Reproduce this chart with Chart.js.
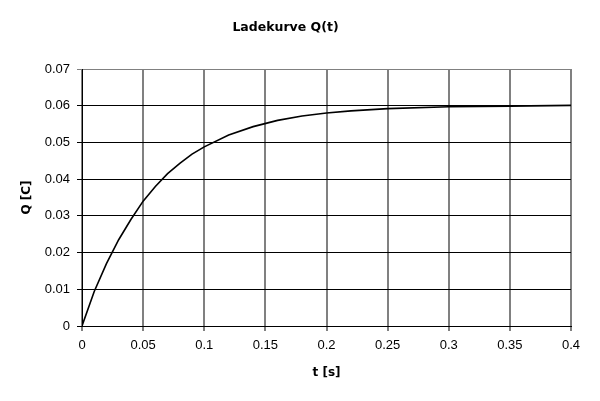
<!DOCTYPE html>
<html>
<head>
<meta charset="utf-8">
<title>Ladekurve Q(t)</title>
<script src="https://cdn.jsdelivr.net/npm/chart.js@4.4.0/dist/chart.umd.min.js"></script>
<style>
  body { margin: 0; background: #fff; }
  #wrap { width: 600px; height: 401px; }
</style>
</head>
<body>
<div id="wrap"><canvas id="ladekurve"></canvas></div>
<script>
// Zeit in s, Ladung in C
var zeiten = [0, 0.01, 0.02, 0.03, 0.04, 0.05, 0.06, 0.07, 0.08, 0.09, 0.1,
              0.12, 0.14, 0.16, 0.18, 0.2, 0.22, 0.25, 0.3, 0.35, 0.4];
var ladung = [0, 0.0094, 0.017, 0.0235, 0.029, 0.034, 0.038, 0.0415, 0.0443, 0.0468, 0.0488,
              0.052, 0.0543, 0.056, 0.0572, 0.058, 0.0586, 0.0592, 0.0597, 0.0599, 0.0601];
var tTicks = [0, 0.05, 0.1, 0.15, 0.2, 0.25, 0.3, 0.35, 0.4];
var qTicks = [0, 0.01, 0.02, 0.03, 0.04, 0.05, 0.06, 0.07];

var punkte = [];
for (var i = 0; i < zeiten.length; i++) {
    punkte.push({x: zeiten[i], y: ladung[i]});
}

var schrift = "'DejaVu Sans', Verdana, sans-serif";
var tickSchrift = "'Liberation Sans', Arial, sans-serif";

new Chart(document.getElementById('ladekurve'), {
    type: 'scatter',
    data: {
        datasets: [{
            data: punkte,
            showLine: true,
            borderColor: '#000',
            borderWidth: 1.6,
            pointRadius: 0,
            tension: 0
        }]
    },
    options: {
        responsive: true,
        maintainAspectRatio: false,
        animation: false,
        layout: { padding: { left: 0, right: 29, top: 0, bottom: 0 } },
        plugins: {
            legend: { display: false },
            tooltip: { enabled: false },
            title: {
                display: true,
                text: 'Ladekurve Q(t)',
                color: '#000',
                font: { family: schrift, size: 12.5, weight: 'bold', lineHeight: 1.2 },
                padding: { top: 20, bottom: 34 }
            }
        },
        scales: {
            x: {
                type: 'linear',
                min: 0,
                max: 0.4,
                afterBuildTicks: function(scale) {
                    scale.ticks = tTicks.map(function(v) { return {value: v}; });
                },
                afterFit: function(scale) { scale.height = 75; },
                ticks: {
                    color: '#000',
                    padding: 7,
                    maxRotation: 0,
                    font: { family: tickSchrift, size: 13 },
                    callback: function(v) { return String(v); }
                },
                grid: { color: '#808080', lineWidth: 2, tickLength: 5 },
                border: { color: '#000', width: 1 },
                title: {
                    display: true,
                    text: 't [s]',
                    color: '#000',
                    font: { family: schrift, size: 12, weight: 'bold', lineHeight: 1.2 },
                    padding: { top: 0, bottom: 21 }
                }
            },
            y: {
                type: 'linear',
                min: 0,
                max: 0.07,
                afterBuildTicks: function(scale) {
                    scale.ticks = qTicks.map(function(v) { return {value: v}; });
                },
                afterFit: function(scale) { scale.width = 82; },
                ticks: {
                    color: '#000',
                    padding: 7,
                    font: { family: tickSchrift, size: 13 },
                    callback: function(v) { return String(v); }
                },
                grid: {
                    color: function(ctx) {
                        return ctx.tick && ctx.tick.value === 0.07 ? '#808080' : '#000';
                    },
                    lineWidth: 1,
                    tickLength: 5
                },
                border: { color: '#000', width: 1 },
                title: {
                    display: true,
                    text: 'Q [C]',
                    color: '#000',
                    font: { family: schrift, size: 12, weight: 'bold', lineHeight: 1.2 },
                    padding: { top: 20, bottom: 0 }
                }
            }
        }
    }
});
</script>
</body>
</html>
